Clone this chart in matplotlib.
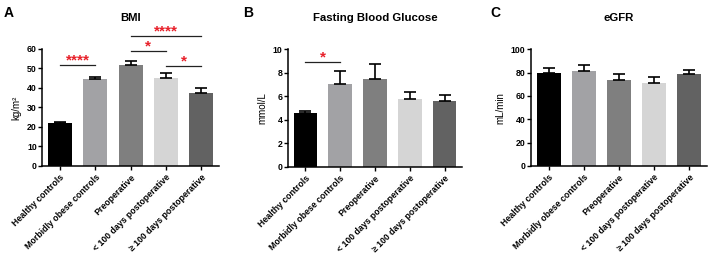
import matplotlib.pyplot as plt
import matplotlib.transforms as mtransforms

plt.rcParams['font.family'] = ['Liberation Sans', 'DejaVu Sans']
plt.rcParams['font.weight'] = 'bold'

groups = ['Healthy controls', 'Morbidly obese controls', 'Preoperative',
          '< 100 days postoperative', '≥ 100 days postoperative']
colors = ['#000000', '#a2a2a5', '#7f7f7f', '#d5d5d5', '#626262']

bmi_mean = [21.8, 44.4, 51.7, 45.1, 37.5]
bmi_err = [0.8, 1.0, 2.0, 2.8, 2.5]
fbg_mean = [4.56, 7.08, 7.45, 5.80, 5.63]
fbg_err = [0.20, 1.10, 1.33, 0.57, 0.49]
egfr_mean = [79.5, 81.4, 74.0, 71.2, 78.9]
egfr_err = [4.3, 5.1, 4.4, 5.2, 3.4]

# significance brackets: (from, to, height, label)
bmi_sig = [(0, 1, 51.8, '****'), (2, 3, 59.0, '*'), (2, 4, 66.7, '****'), (3, 4, 51.3, '*')]
fbg_sig = [(0, 1, 8.92, '*')]

panels = [
    ('A', 'BMI', 'kg/m²', bmi_mean, bmi_err, 60, 10, bmi_sig, [0.0595, 0.3527, 0.2485, 0.456]),
    ('B', 'Fasting Blood Glucose', 'mmol/L', fbg_mean, fbg_err, 10, 2, fbg_sig, [0.405, 0.3477, 0.2447, 0.46]),
    ('C', 'eGFR', 'mL/min', egfr_mean, egfr_err, 100, 20, [], [0.7468, 0.3516, 0.2475, 0.456]),
]
letter_x = [0.005, 0.342, 0.69]

fig = plt.figure(figsize=(7.11, 2.56), dpi=100)
shift = mtransforms.ScaledTranslation(4 / 100, -1 / 100, fig.dpi_scale_trans)

for (letter, title, ylab, means, errs, ymax, ystep, sigs, rect), lx in zip(panels, letter_x):
    ax = fig.add_axes(rect)
    x = list(range(len(groups)))
    ax.bar(x, means, width=0.68, color=colors)
    ax.errorbar(x, means, yerr=[[0] * len(errs), errs], fmt='none', ecolor='black',
                elinewidth=1.2, capsize=4, capthick=1.2)
    ax.set_xlim(-0.5, 4.5)
    ax.set_ylim(0, ymax)
    ax.set_yticks(range(0, ymax + 1, ystep))
    ax.set_xticks(x)
    ax.set_xticklabels(groups, rotation=45, ha='right', rotation_mode='anchor', fontsize=6.3)
    for lbl in ax.get_xticklabels():
        lbl.set_transform(lbl.get_transform() + shift)
    ax.tick_params(axis='y', labelsize=6.3, length=3, width=1, pad=1)
    ax.tick_params(axis='x', length=3, width=1, pad=2)
    for s in ['top', 'right']:
        ax.spines[s].set_visible(False)
    for s in ['left', 'bottom']:
        ax.spines[s].set_linewidth(1.1)
    ax.set_ylabel(ylab, fontsize=7, labelpad=4)
    ax.set_title(title, fontsize=8.2, fontweight='bold', pad=20.5)
    for a, b, h, lab in sigs:
        ax.plot([a, b], [h, h], color='#222222', lw=0.9, clip_on=False)
        ax.text((a + b) / 2, h, lab, color='#e8202a', ha='center', va='baseline',
                fontsize=11, fontweight='bold', clip_on=False)
    fig.text(lx, 0.975, letter, fontsize=10, fontweight='bold', va='top')

fig.savefig('out.png', dpi=100)
